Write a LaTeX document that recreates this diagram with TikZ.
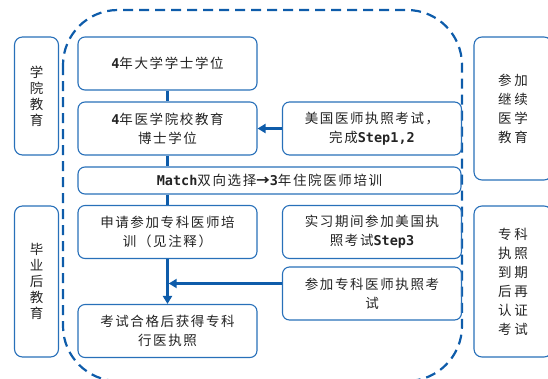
\documentclass[tikz,border=0pt]{standalone}
\usepackage{fontspec}
\newfontfamily\cjk[LetterSpace=12]{Noto Sans CJK SC}
\newfontfamily\cjkwide[LetterSpace=22]{Noto Sans CJK SC}
\newfontfamily\latfont{DejaVu Sans Mono}
\newcommand\en[1]{{\latfont\bfseries #1}}
\usetikzlibrary{arrows.meta,positioning}
\definecolor{lineblue}{RGB}{14,92,170}
\definecolor{boxblue}{RGB}{40,112,185}
\definecolor{txtgray}{RGB}{35,35,35}

\begin{document}
\begin{tikzpicture}[x=1pt, y=-1pt,
    box/.style={rectangle, draw=boxblue, line width=1.1pt, rounded corners=7pt, minimum width=179pt, minimum height=53pt, inner sep=2pt, font=\cjk\fontsize{13.5}{19}\selectfont, text=txtgray, align=center},
    sidebox/.style={rectangle, draw=boxblue, line width=1.1pt, rounded corners=8pt, inner sep=2pt, text=txtgray, align=center},
    link/.style={draw=lineblue, line width=2.4pt},
    arrow/.style={link, -{Triangle[length=8pt,width=9pt]}},
    boundary/.style={draw=lineblue, line width=2.2pt, dash pattern=on 10pt off 6pt, rounded corners=55pt}
]
\useasboundingbox (0,0) rectangle (548,378);

% Outer dashed frame
\draw[boundary] (63,10) rectangle (462,381);

% Side labels
\node[sidebox, minimum width=44pt, minimum height=118pt, font=\cjk\fontsize{13.5}{16}\selectfont] (school) at (36.5,96) {学\\院\\教\\育};
\node[sidebox, minimum width=44pt, minimum height=151pt, font=\cjk\fontsize{13.5}{16}\selectfont] (postgrad) at (36.5,281.5) {毕\\业\\后\\教\\育};
\node[sidebox, minimum width=78pt, minimum height=143pt, font=\cjkwide\fontsize{13.5}{19}\selectfont] (cme) at (513,108.5) {参加\\继续\\医学\\教育};
\node[sidebox, minimum width=78pt, minimum height=151pt, font=\cjkwide\fontsize{13.5}{19}\selectfont] (recert) at (513,281.5) {专科\\执照\\到期\\后再\\认证\\考试};

% Main flow
\node[box] (bachelor) at (167.5,63.5) {\en{4}年大学学士学位};
\node[box] (md) at (167.5,128.5) {\en{4}年医学院校教育\\博士学位};
\node[box] (usmle) at (372,128.5) {美国医师执照考试，\\完成\en{Step1,2}};
\node[box, minimum width=383pt, minimum height=27pt] (match) at (269.5,180.5) {\en{Match}双向选择{\bfseries →}\en{3}年住院医师培训};
\node[box] (apply) at (167.5,232) {申请参加专科医师培\\训（见注释）};
\node[box] (step3) at (372,232) {实习期间参加美国执\\照考试\en{Step3}};
\node[box] (boardexam) at (372,293.5) {参加专科医师执照考\\试};
\node[box] (license) at (167.5,331) {考试合格后获得专科\\行医执照};

% Arrows
\draw[link] (bachelor) -- (md);
\draw[link] (md.south) -- (md.south |- match.north);
\draw[link] (apply.north |- match.south) -- (apply.north);
\draw[arrow] (apply) -- (license);
\draw[arrow] (usmle) -- (md);
\draw[arrow] ([yshift=10pt]boardexam.west) -- ([yshift=10pt, xshift=1.2pt]boardexam.west -| apply.south);
\end{tikzpicture}
\end{document}
